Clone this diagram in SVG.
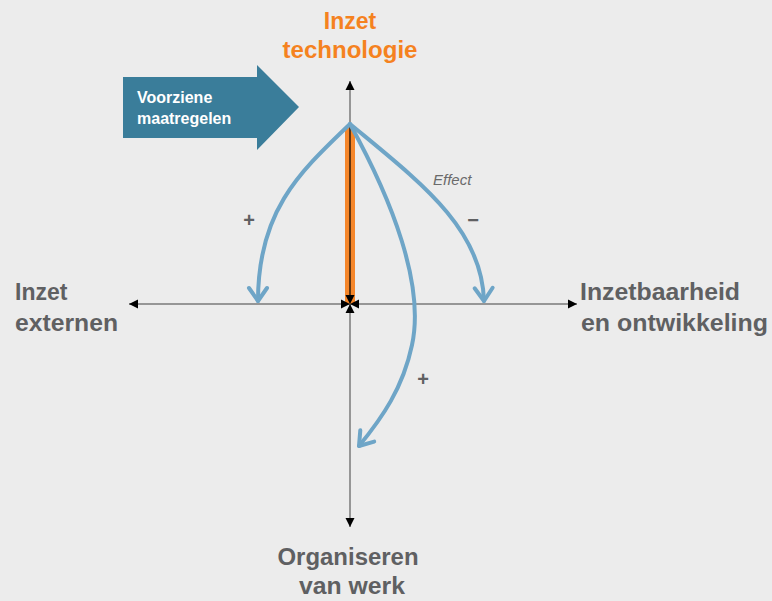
<svg xmlns="http://www.w3.org/2000/svg" width="772" height="601" viewBox="0 0 772 601">
<style>
.lbl{font-family:"Liberation Sans",Arial,sans-serif;font-weight:bold;fill:#5f6062;font-size:23px}
.ttl{font-family:"Liberation Sans",Arial,sans-serif;font-weight:bold;fill:#f5821f;font-size:23px}
.axis{stroke:#7a7a7a;stroke-width:1.5;fill:none}
.eff{stroke:#6ea5c7;stroke-width:4;fill:none;stroke-linecap:round;marker-end:url(#chev)}
.sign{font-family:"Liberation Sans",Arial,sans-serif;font-weight:bold;fill:#5f6062;font-size:20px}
</style>
<defs>
<marker id="chev" markerUnits="userSpaceOnUse" viewBox="-16 -12 20 24" refX="0" refY="0" markerWidth="20" markerHeight="24" orient="auto" overflow="visible">
<path d="M-13,-9 L0,0 L-13,9" fill="none" stroke="#6ea5c7" stroke-width="4" stroke-linecap="round" stroke-linejoin="round"/>
</marker>
<marker id="tri" markerUnits="userSpaceOnUse" viewBox="-10 -5 10 10" refX="0" refY="0" markerWidth="10" markerHeight="10" orient="auto">
<path d="M-9,-4.5 L0,0 L-9,4.5 Z" fill="#000"/>
</marker>
</defs>
<rect width="772" height="601" fill="#ececec"/>

<g id="maatregelen">
<path d="M123,77 H257 V65 L299,107 L257,150 V138 H123 Z" fill="#3a7d9a"/>
<text x="137" y="103" font-family="Liberation Sans,Arial,sans-serif" font-weight="bold" font-size="16" fill="#fff">Voorziene</text>
<text x="137" y="124" font-family="Liberation Sans,Arial,sans-serif" font-weight="bold" font-size="16" fill="#fff">maatregelen</text>
</g>

<g id="technologie">
<text class="ttl" x="350" y="29" text-anchor="middle">Inzet</text>
<text class="ttl" x="350" y="58" text-anchor="middle" textLength="135" lengthAdjust="spacingAndGlyphs">technologie</text>
</g>

<g id="externen">
<text class="lbl" x="15" y="300">Inzet</text>
<text class="lbl" x="15" y="331" textLength="103" lengthAdjust="spacingAndGlyphs">externen</text>
</g>

<g id="inzetbaarheid">
<text class="lbl" x="580" y="300" textLength="160" lengthAdjust="spacingAndGlyphs">Inzetbaarheid</text>
<text class="lbl" x="581" y="331" textLength="187" lengthAdjust="spacingAndGlyphs">en ontwikkeling</text>
</g>

<g id="organiseren">
<text class="lbl" x="348" y="565" text-anchor="middle" textLength="141" lengthAdjust="spacingAndGlyphs">Organiseren</text>
<text class="lbl" x="352" y="594" text-anchor="middle" textLength="106" lengthAdjust="spacingAndGlyphs">van werk</text>
</g>

<g id="connectors">
<line class="axis" x1="350" y1="304" x2="129" y2="304" marker-end="url(#tri)"/>
<line class="axis" x1="350" y1="304" x2="577" y2="304" marker-end="url(#tri)"/>
<line class="axis" x1="350" y1="304" x2="350" y2="81" marker-end="url(#tri)"/>
<line class="axis" x1="350" y1="304" x2="350" y2="527" marker-end="url(#tri)"/>
<rect x="345" y="127" width="10" height="177" fill="#f5862a"/>
<line x1="350" y1="124" x2="350" y2="300" stroke="#000" stroke-width="1.2"/>
<path d="M350,304 l-4.5,-9 h9 Z M350,304 l4.5,9 h-9 Z M350,304 l-9,-4.5 v9 Z M350,304 l9,-4.5 v9 Z" fill="#000"/>
<path class="eff" d="M350,124 C300,172 258,210 258,301"/>
<path class="eff" d="M350,124 C420,182 482,228 484,301"/>
<path class="eff" d="M350,124 C392,200 425,285 412,345 C403,388 382,418 359,446"/>
</g>

<g id="labels">
<text x="433" y="185" font-family="Liberation Sans,Arial,sans-serif" font-style="italic" font-size="15" fill="#6a6a6a">Effect</text>
<text class="sign" x="249" y="227" text-anchor="middle">+</text>
<text class="sign" x="473" y="227" text-anchor="middle">−</text>
<text class="sign" x="423" y="386" text-anchor="middle">+</text>
</g>
</svg>
